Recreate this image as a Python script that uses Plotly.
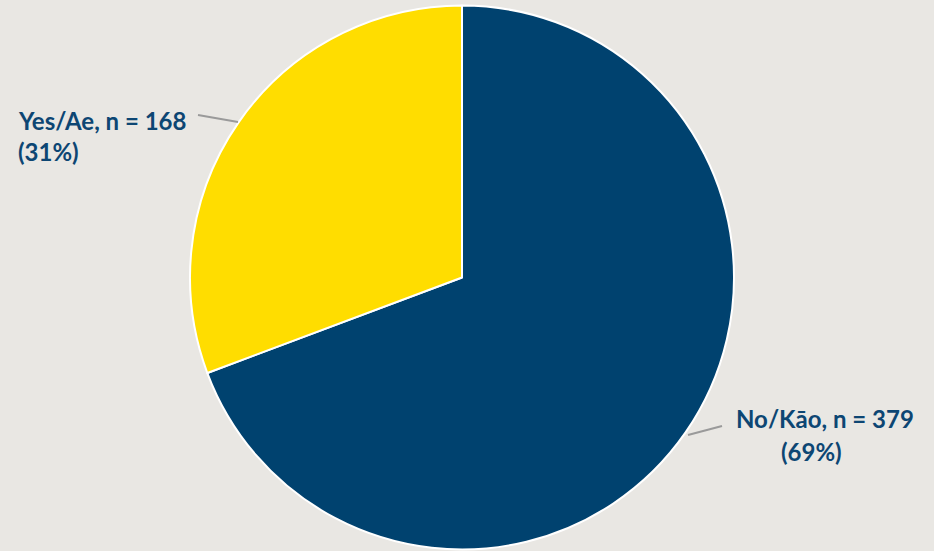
import plotly.graph_objects as go

labels = ["Yes/Ae", "No/Kāo"]
counts = [168, 379]
colors = ["#FFDD00", "#00426F"]

total = sum(counts)
pcts = [round(c / total * 100) for c in counts]

W, H = 934, 551
fig = go.Figure()
# Draw "No" first clockwise from 12 o'clock so "Yes" sits on the upper left
fig.add_trace(go.Pie(
    labels=labels[::-1], values=counts[::-1], sort=False, direction="clockwise",
    rotation=0, marker=dict(colors=colors[::-1], line=dict(color="white", width=2)),
    textinfo="none", hoverinfo="label+value+percent", showlegend=False,
    domain=dict(x=[(462 - 272) / W, (462 + 272) / W], y=[(273.5 - 272) / H, (273.5 + 272) / H]),
))

font = dict(family="Lato, 'Open Sans', sans-serif", size=24, color="#0D4673")

def label(x, y, text, anchor):
    fig.add_annotation(x=x / W, y=1 - y / H, xref="paper", yref="paper", xanchor=anchor,
                       yanchor="middle", text=f"<b>{text}</b>", showarrow=False, font=font)

label(16, 120, f"{labels[0]}, n = {counts[0]}", "left")
label(16, 151, f"({pcts[0]}%)", "left")
label(825, 418, f"{labels[1]}, n = {counts[1]}", "center")
label(811, 451, f"({pcts[1]}%)", "center")

line = dict(color="#9a9a9a", width=2)
fig.add_shape(type="line", xref="paper", yref="paper", x0=198 / W, y0=1 - 115 / H, x1=238 / W, y1=1 - 122 / H, line=line)
fig.add_shape(type="line", xref="paper", yref="paper", x0=688 / W, y0=1 - 435 / H, x1=722 / W, y1=1 - 426 / H, line=line)

fig.update_layout(width=W, height=H, margin=dict(l=0, r=0, t=0, b=0),
                  paper_bgcolor="#E9E7E3", plot_bgcolor="#E9E7E3")
fig.write_html("out.html")
